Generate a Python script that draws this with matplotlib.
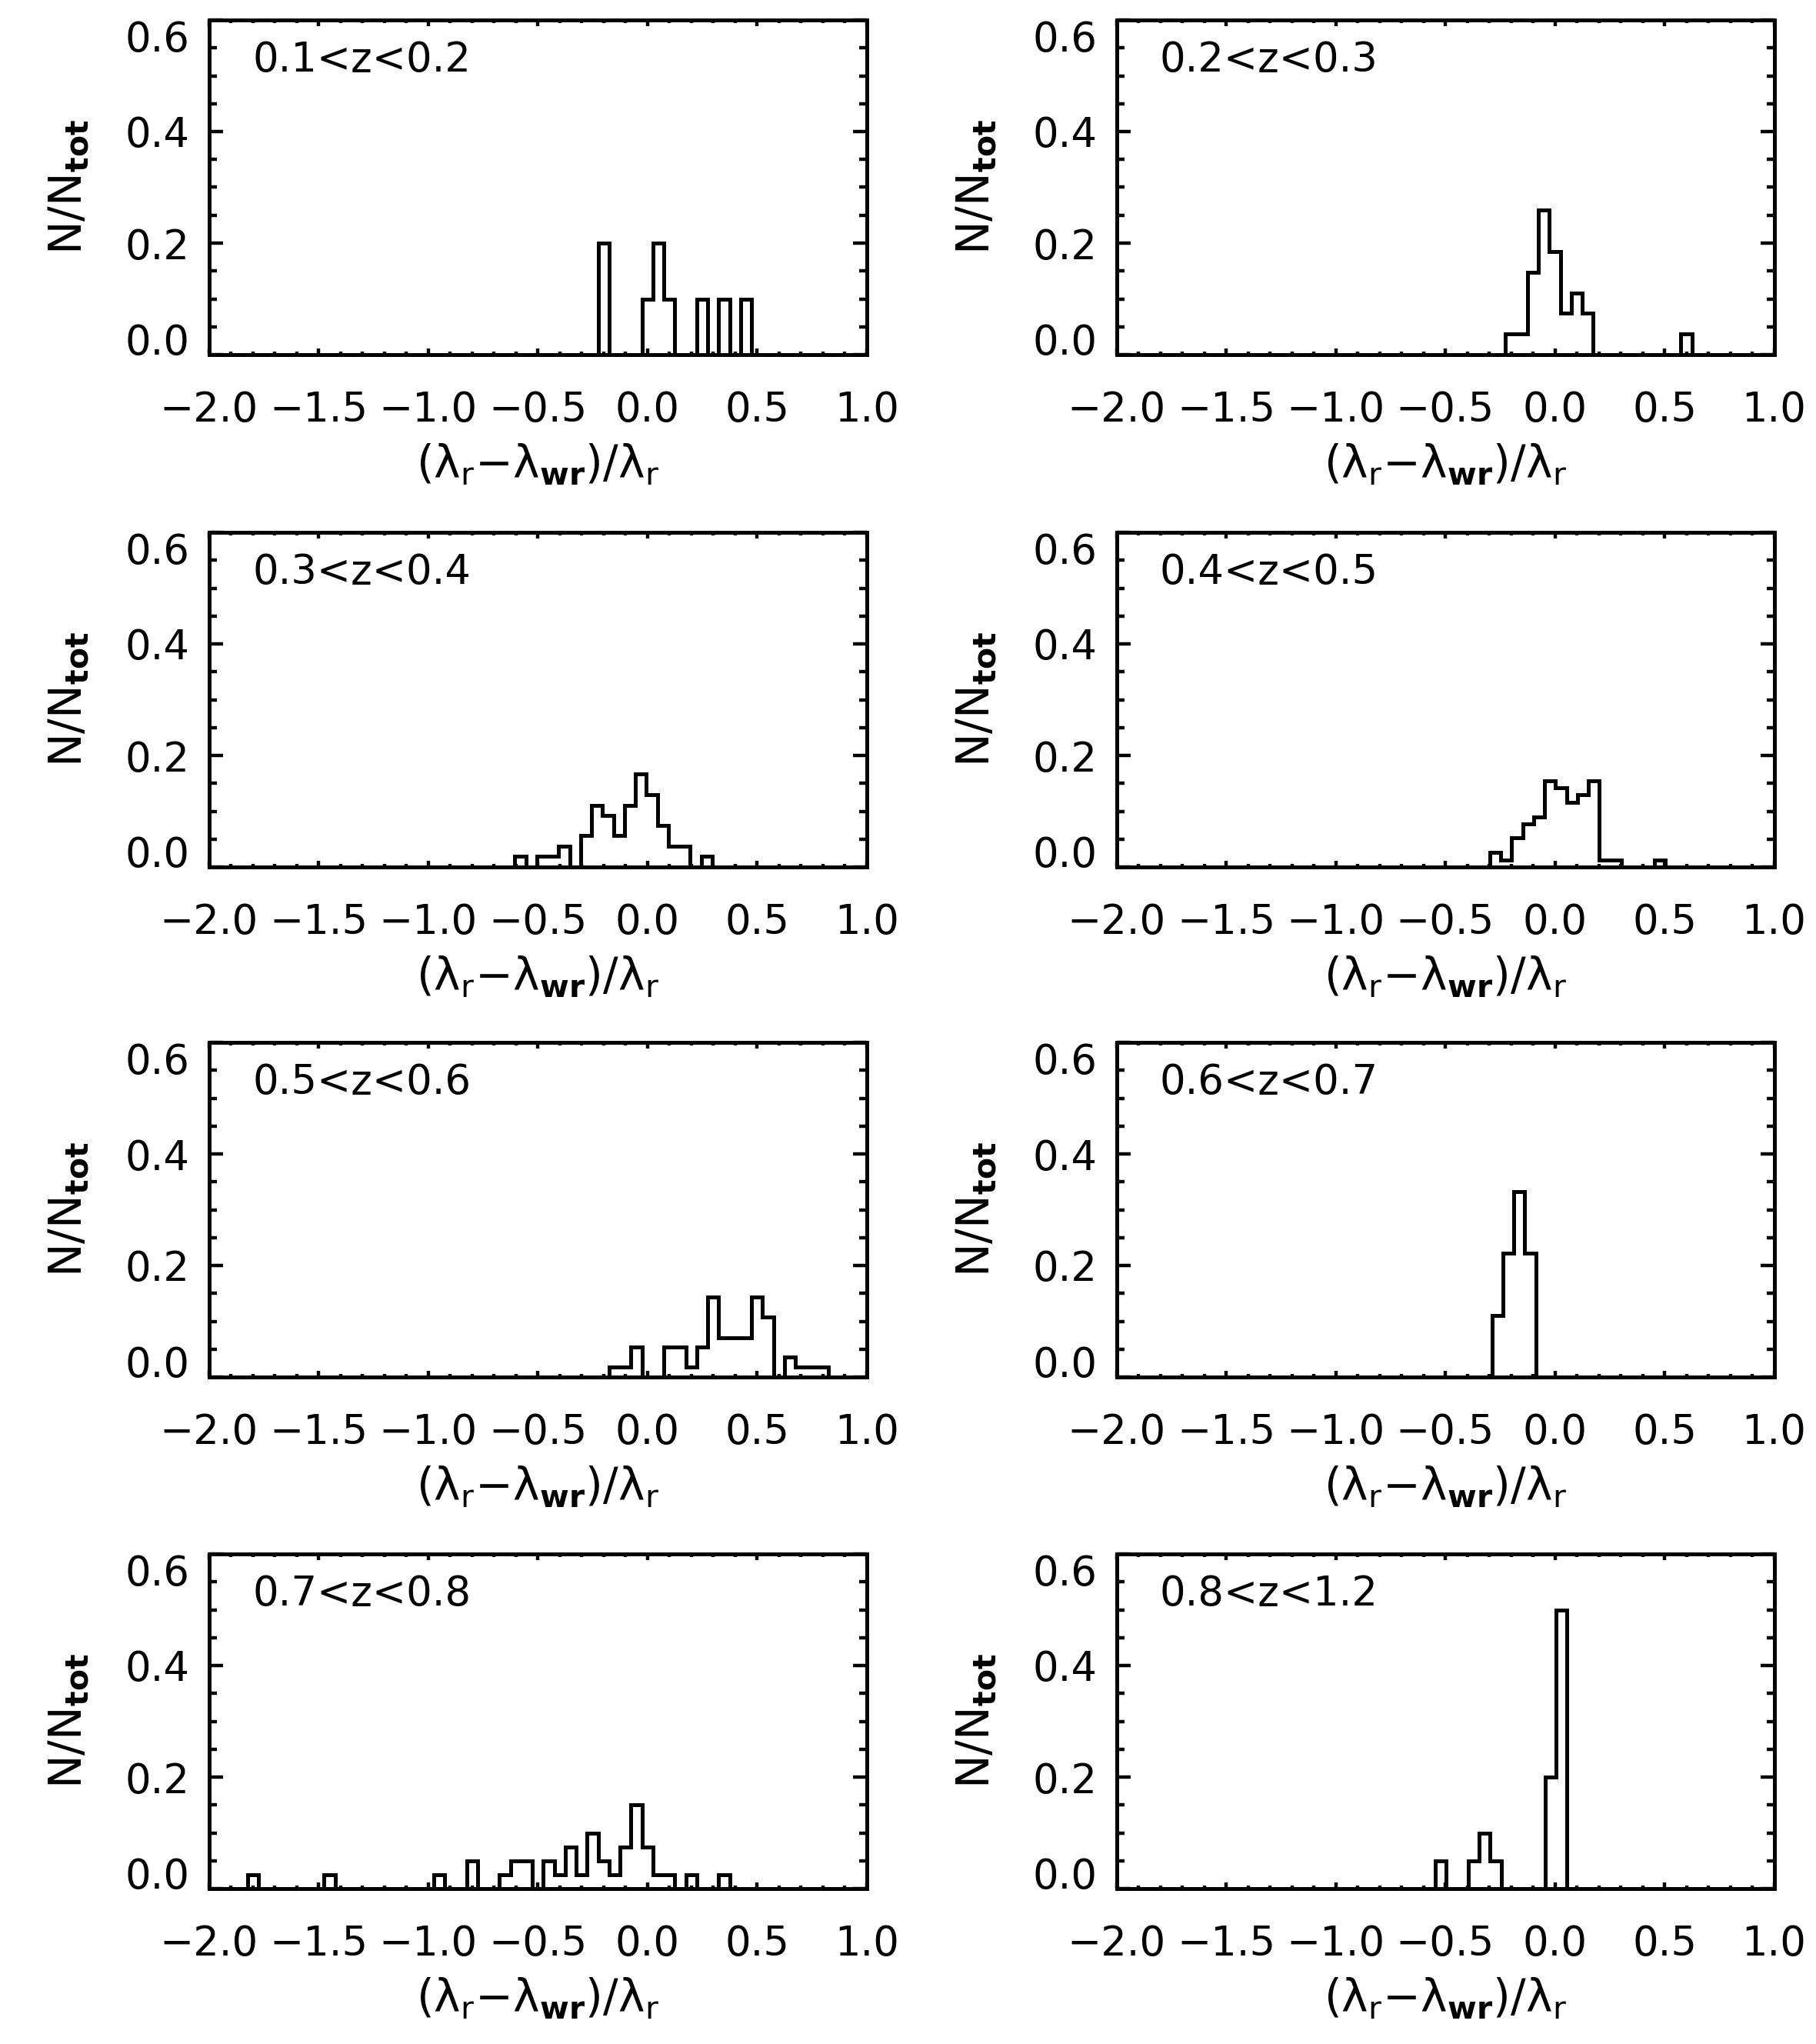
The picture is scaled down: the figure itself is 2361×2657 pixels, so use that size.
import numpy as np
import matplotlib.pyplot as plt
from matplotlib.ticker import MultipleLocator

plt.rcParams['mathtext.fontset'] = 'dejavusans'

# redshift bins shown in each panel
z_labels = ["0.1<z<0.2", "0.2<z<0.3", "0.3<z<0.4", "0.4<z<0.5",
            "0.5<z<0.6", "0.6<z<0.7", "0.7<z<0.8", "0.8<z<1.2"]

# left edge of the first histogram bin in each panel, bin width 0.05
bin_start = [-0.225, -0.225, -0.605, -0.297, -0.175, -0.287, -1.825, -0.545]
bin_width = 0.05

# N/Ntot per bin
frac_z01_02 = [0.2, 0, 0, 0, 0.1, 0.2, 0.1, 0, 0, 0.1, 0, 0.1, 0, 0.1]
frac_z02_03 = [0.037, 0.037, 0.148, 0.259, 0.185, 0.074, 0.111, 0.074,
               0, 0, 0, 0, 0, 0, 0, 0, 0.037]
frac_z03_04 = [0.019, 0, 0.019, 0.019, 0.037, 0, 0.056, 0.111, 0.093, 0.056,
               0.111, 0.167, 0.130, 0.074, 0.037, 0.037, 0, 0.019]
frac_z04_05 = [0.026, 0.013, 0.052, 0.077, 0.090, 0.155, 0.142, 0.116,
               0.129, 0.155, 0.013, 0.013, 0, 0, 0, 0.013]
frac_z05_06 = [0.018, 0.018, 0.054, 0, 0, 0.054, 0.054, 0.018, 0.054, 0.143,
               0.071, 0.071, 0.071, 0.143, 0.107, 0, 0.036, 0.018, 0.018, 0.018]
frac_z06_07 = [0.111, 0.222, 0.333, 0.222]
frac_z07_08 = [0.025, 0, 0, 0, 0, 0, 0, 0.025, 0, 0, 0, 0, 0, 0, 0, 0, 0,
               0.025, 0, 0, 0.05, 0, 0, 0.025, 0.05, 0.05, 0, 0.05, 0.025,
               0.075, 0.025, 0.10, 0.05, 0.025, 0.075, 0.15, 0.075, 0.025,
               0.025, 0, 0.025, 0, 0, 0.025]
frac_z08_12 = [0.05, 0, 0, 0.05, 0.10, 0.05, 0, 0, 0, 0, 0.2, 0.5]

fractions = [frac_z01_02, frac_z02_03, frac_z03_04, frac_z04_05,
             frac_z05_06, frac_z06_07, frac_z07_08, frac_z08_12]

# layout in pixels of the output image
W, H = 2361, 2657
col_left = [271.7, 1451.5]
row_bottom = [461, 1127, 1790, 2455]
ax_w, ax_h = 855, 435

fig = plt.figure(figsize=(W / 100, H / 100), dpi=100)

for i, vals in enumerate(fractions):
    r, c = divmod(i, 2)
    ax = fig.add_axes([col_left[c] / W, 1 - row_bottom[r] / H, ax_w / W, ax_h / H])
    edges = bin_start[i] + bin_width * np.arange(len(vals) + 1)
    ax.stairs(vals, edges, color='black', linewidth=3.6, baseline=0)

    ax.set_xlim(-2, 1)
    ax.set_ylim(0, 0.6)
    ax.set_xticks([-2.0, -1.5, -1.0, -0.5, 0.0, 0.5, 1.0])
    ax.set_yticks([0.0, 0.2, 0.4, 0.6])
    ax.xaxis.set_minor_locator(MultipleLocator(0.1))
    ax.yaxis.set_minor_locator(MultipleLocator(0.05))

    for s in ax.spines.values():
        s.set_linewidth(3.6)
    ax.tick_params(which='both', direction='in', top=True, right=True, width=3.2)
    ax.tick_params(axis='x', which='major', length=6, pad=33, labelsize=38)
    ax.tick_params(axis='x', which='minor', length=3)
    ax.tick_params(axis='y', which='major', length=13, pad=18, labelsize=38)
    ax.tick_params(axis='y', which='minor', length=7)

    yt = ax.yaxis.get_major_ticks()
    yt[0].label1.set_verticalalignment('baseline')
    yt[-1].label1.set_verticalalignment('top')

    ax.set_xlabel(r'$\mathrm{(\lambda_r{-}\lambda_{\mathbf{wr}})/\lambda_r}$', fontsize=42)
    ax.set_ylabel(r'$\mathrm{N/N_{\mathbf{tot}}}$', fontsize=42)
    ax.xaxis.set_label_coords(0.5, -0.262)
    ax.yaxis.set_label_coords(-0.18, 0.5)

    ax.text(0.066, 0.88, z_labels[i], transform=ax.transAxes,
            ha='left', va='center', fontsize=38)

fig.savefig('out.png', dpi=100)
